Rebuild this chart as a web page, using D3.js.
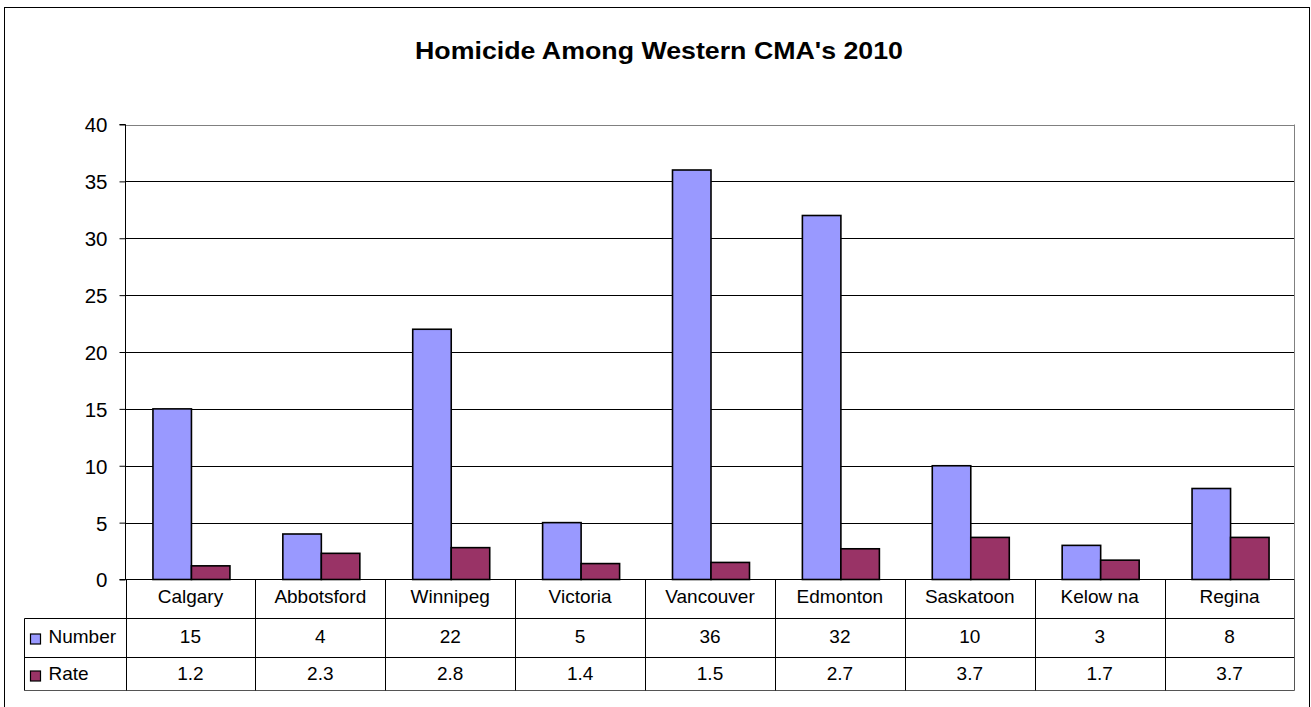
<!DOCTYPE html>
<html><head><meta charset="utf-8">
<script src="https://cdn.jsdelivr.net/npm/d3@7"></script>
<style>
body{margin:0;background:#fff;overflow:hidden;}
svg{display:block;font-family:Arial,"Liberation Sans",sans-serif;}
</style></head>
<body>
<script>
const categories = ["Calgary","Abbotsford","Winnipeg","Victoria","Vancouver","Edmonton","Saskatoon","Kelow na","Regina"];
const numberValues = [15,4,22,5,36,32,10,3,8];
const rateValues = [1.2,2.3,2.8,1.4,1.5,2.7,3.7,1.7,3.7];
const numberLabels = ["15","4","22","5","36","32","10","3","8"];
const rateLabels = ["1.2","2.3","2.8","1.4","1.5","2.7","3.7","1.7","3.7"];
const yTicks = [0,5,10,15,20,25,30,35,40];
const seriesNames = ["Number","Rate"];
const seriesColors = ["#9999FF","#993366"];
const chartTitle = "Homicide Among Western CMA's 2010";

const W = 1311, H = 707;
const svg = d3.select("body").append("svg").attr("width",W).attr("height",H);

// outer border (bottom edge lies outside the picture)
svg.append("rect").attr("x",4.5).attr("y",7.5).attr("width",1305).attr("height",710)
  .attr("fill","#fff").attr("stroke","#000").attr("stroke-width",1);

const pLeft = 125.5, pRight = 1294.5, pTop = 124.5, pBottom = 579.5;
const x = d3.scaleBand().domain(categories).range([pLeft,pRight]).paddingInner(0).paddingOuter(0);
const y = d3.scaleLinear().domain([0,40]).range([pBottom,pTop]);
const bw = 38.5;

// title
svg.append("text").attr("x",659).attr("y",58.5).attr("text-anchor","middle")
  .attr("font-weight","bold").attr("font-size",24)
  .attr("textLength",488).attr("lengthAdjust","spacingAndGlyphs").text(chartTitle);

// gridlines
svg.append("g").selectAll("line").data(yTicks.filter(d=>d>0)).join("line")
  .attr("x1",pLeft).attr("x2",pRight)
  .attr("y1",d=>Math.round(y(d))+0.5).attr("y2",d=>Math.round(y(d))+0.5)
  .attr("stroke",d=>d===40?"#808080":"#000").attr("stroke-width",1);
// right plot border
svg.append("line").attr("x1",pRight).attr("x2",pRight).attr("y1",pTop).attr("y2",pBottom).attr("stroke","#808080");

// y axis
const yAxis = d3.axisLeft(y).tickValues(yTicks).tickSize(6).tickPadding(12).tickFormat(d3.format("d"));
const ga = svg.append("g").attr("transform",`translate(${pLeft},0)`).call(yAxis);
ga.select(".domain").attr("stroke","#000").attr("d",`M-6,${pTop}H0V${pBottom}`);
ga.selectAll(".tick line").attr("stroke","#000");
ga.selectAll(".tick text").attr("font-size",20.5).attr("fill","#000").attr("font-family",'Arial,"Liberation Sans",sans-serif').attr("dy","0.36em");

// bars
const series = [numberValues, rateValues];
series.forEach((vals,si)=>{
  svg.append("g").selectAll("rect").data(categories).join("rect")
    .attr("x",(d,i)=>x(d)+x.bandwidth()/2 + 1 - bw + si*bw)
    .attr("width",bw)
    .attr("y",(d,i)=>y(vals[i]))
    .attr("height",(d,i)=>pBottom - y(vals[i]))
    .attr("fill",seriesColors[si]).attr("stroke","#000").attr("stroke-width",1.6);
});

// zero line
svg.append("line").attr("x1",pLeft-6).attr("x2",pRight).attr("y1",pBottom).attr("y2",pBottom).attr("stroke","#000");

// data table
const r1 = 618.5, r2 = 657.5, r3 = 690.5, tl = 24.5;
const tg = svg.append("g").attr("stroke","#000").attr("stroke-width",1);
[r1,r2].forEach(r=>tg.append("line").attr("x1",tl).attr("x2",pRight).attr("y1",r).attr("y2",r));
tg.append("line").attr("x1",tl).attr("x2",pRight).attr("y1",r3).attr("y2",r3).attr("stroke","#555");
tg.append("line").attr("x1",tl).attr("x2",tl).attr("y1",r1).attr("y2",r3);
tg.selectAll(".v").data(categories.map(c=>x(c))).join("line")
  .attr("x1",d=>Math.round(d)+0.5).attr("x2",d=>Math.round(d)+0.5).attr("y1",pBottom).attr("y2",r3);
tg.append("line").attr("x1",pRight).attr("x2",pRight).attr("y1",pBottom).attr("y2",r3).attr("stroke","#555");

const fs = 19;
svg.append("g").selectAll("text").data(categories).join("text")
  .attr("x",d=>x(d)+x.bandwidth()/2).attr("y",603).attr("text-anchor","middle")
  .attr("font-size",fs).text(d=>d);
svg.append("g").selectAll("text").data(numberLabels).join("text")
  .attr("x",(d,i)=>x(categories[i])+x.bandwidth()/2).attr("y",643).attr("text-anchor","middle")
  .attr("font-size",fs).text(d=>d);
svg.append("g").selectAll("text").data(rateLabels).join("text")
  .attr("x",(d,i)=>x(categories[i])+x.bandwidth()/2).attr("y",680).attr("text-anchor","middle")
  .attr("font-size",fs).text(d=>d);

// legend keys
const ly = [639, 676];
seriesNames.forEach((n,i)=>{
  svg.append("rect").attr("x",30.5).attr("y",ly[i]-5).attr("width",10).attr("height",10)
    .attr("fill",seriesColors[i]).attr("stroke","#000").attr("stroke-width",1.2);
  svg.append("text").attr("x",48.5).attr("y",i===0?643:680).attr("font-size",fs).text(n);
});
</script>
</body></html>
